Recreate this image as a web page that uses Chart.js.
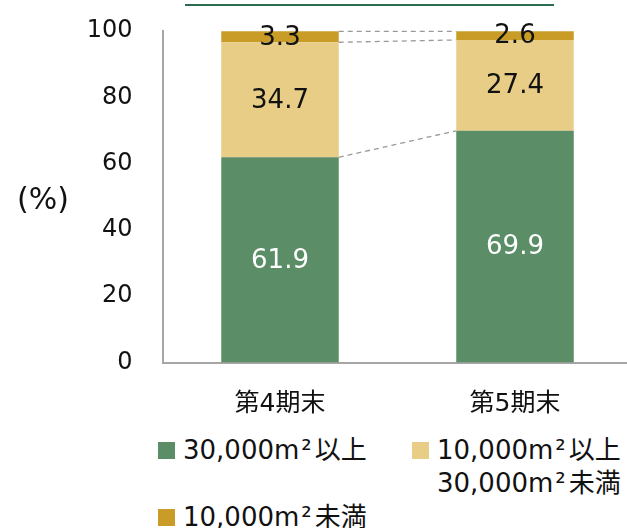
<!DOCTYPE html>
<html>
<head>
<meta charset="utf-8">
<script src="https://cdn.jsdelivr.net/npm/chart.js@4/dist/chart.umd.min.js"></script>
<style>
  body { margin: 0; background: #fff; overflow: hidden; width: 627px; height: 528px; position: relative; }
  #wrap { position: absolute; left: 0; top: 0; width: 640px; height: 425px; }
  .legend { position: absolute; font-family: 'DejaVu Sans', 'Noto Sans CJK JP', sans-serif; font-size: 26px; color: #111; line-height: 33px; }
  .legend .box { position: absolute; width: 17px; height: 17px; left: 0; top: 8px; }
  .legend .txt { position: absolute; left: 25px; top: 0; white-space: nowrap; }
  .legend .sq { margin: 0 3px 0 2px; }
</style>
</head>
<body>
<div id="wrap"><canvas id="chart" width="640" height="425"></canvas></div>
<div id="legend"></div>
<script>
const categories = ['第4期末', '第5期末'];
const seriesNames = [['30,000m²以上'], ['10,000m²以上', '30,000m²未満'], ['10,000m²未満']];
const over30k = [61.9, 69.9];
const from10kTo30k = [34.7, 27.4];
const under10k = [3.3, 2.6];
const yTicks = [0, 20, 40, 60, 80, 100];

const colors = ['#5b8d67', '#e8cd87', '#c99c27'];
const labelColors = ['#ffffff', '#111111', '#111111'];
const fontFamily = "'DejaVu Sans', 'Noto Sans CJK JP', sans-serif";

// values written in the middle of each segment
const valueLabels = {
    id: 'valueLabels',
    afterDatasetsDraw(chart) {
        const ctx = chart.ctx;
        ctx.save();
        ctx.font = '26px ' + fontFamily;
        ctx.textAlign = 'center';
        ctx.textBaseline = 'middle';
        chart.data.datasets.forEach((ds, i) => {
            chart.getDatasetMeta(i).data.forEach((bar, j) => {
                ctx.fillStyle = labelColors[i];
                ctx.fillText(ds.data[j].toFixed(1), bar.x, (bar.y + bar.base) / 2 + 1);
            });
        });
        ctx.restore();
    }
};

// dashed lines joining the segment tops, plus (%) and the top rule
const extras = {
    id: 'extras',
    afterDatasetsDraw(chart) {
        const ctx = chart.ctx;
        ctx.save();
        ctx.strokeStyle = '#999999';
        ctx.lineWidth = 1.3;
        ctx.setLineDash([5, 4]);
        chart.data.datasets.forEach((ds, i) => {
            const bars = chart.getDatasetMeta(i).data;
            const a = bars[0], b = bars[1];
            ctx.beginPath();
            ctx.moveTo(a.x + a.width / 2, a.y);
            ctx.lineTo(b.x - b.width / 2, b.y);
            ctx.stroke();
        });
        ctx.setLineDash([]);
        ctx.strokeStyle = '#2a6d4e';
        ctx.lineWidth = 2;
        ctx.beginPath();
        ctx.moveTo(185, 5);
        ctx.lineTo(554, 5);
        ctx.stroke();
        ctx.fillStyle = '#111';
        ctx.font = '30px ' + fontFamily;
        ctx.textAlign = 'center';
        ctx.textBaseline = 'middle';
        ctx.fillText('(%)', 43, 201);
        ctx.restore();
    }
};

const datasets = [over30k, from10kTo30k, under10k].map((d, i) => ({
    label: seriesNames[i].join(''),
    data: d,
    backgroundColor: colors[i],
    borderWidth: 0,
    barPercentage: 0.5,
    categoryPercentage: 1
}));

new Chart(document.getElementById('chart'), {
    type: 'bar',
    data: { labels: categories, datasets },
    options: {
        responsive: false,
        animation: false,
        layout: { padding: { top: 31, right: 7.5, left: 0, bottom: 0 } },
        plugins: { legend: { display: false }, tooltip: { enabled: false } },
        scales: {
            x: {
                stacked: true,
                grid: { display: false, drawTicks: false },
                border: { display: true, color: '#a6a6a6', width: 2 },
                ticks: { color: '#111', padding: 27, font: { family: fontFamily, size: 25 } },
                afterFit(scale) { scale.height = 62.5; }
            },
            y: {
                stacked: true,
                min: yTicks[0],
                max: yTicks[yTicks.length - 1],
                afterBuildTicks(scale) { scale.ticks = yTicks.map(v => ({ value: v })); },
                grid: { display: false, drawTicks: false },
                border: { display: true, color: '#a6a6a6', width: 2 },
                ticks: { color: '#111', padding: 30, font: { family: fontFamily, size: 24 } },
                afterFit(scale) {
                    scale.width = 162.5;
                    // tick padding is horizontal here, keep it out of the top/bottom reserve
                    scale.paddingTop = 0;
                    scale.paddingBottom = 0;
                }
            }
        }
    },
    plugins: [valueLabels, extras]
});

// legend laid out like the reference
const legendPos = [[158, 434], [412, 434], [158, 501]];
const legendEl = document.getElementById('legend');
seriesNames.forEach((lines, i) => {
    const item = document.createElement('div');
    item.className = 'legend';
    item.style.left = legendPos[i][0] + 'px';
    item.style.top = legendPos[i][1] + 'px';
    item.innerHTML = '<div class="box" style="background:' + colors[i] + '"></div>' +
        '<div class="txt">' + lines.map(t => t.replace('²', '<span class="sq">²</span>')).join('<br>') + '</div>';
    legendEl.appendChild(item);
});
</script>
</body>
</html>
